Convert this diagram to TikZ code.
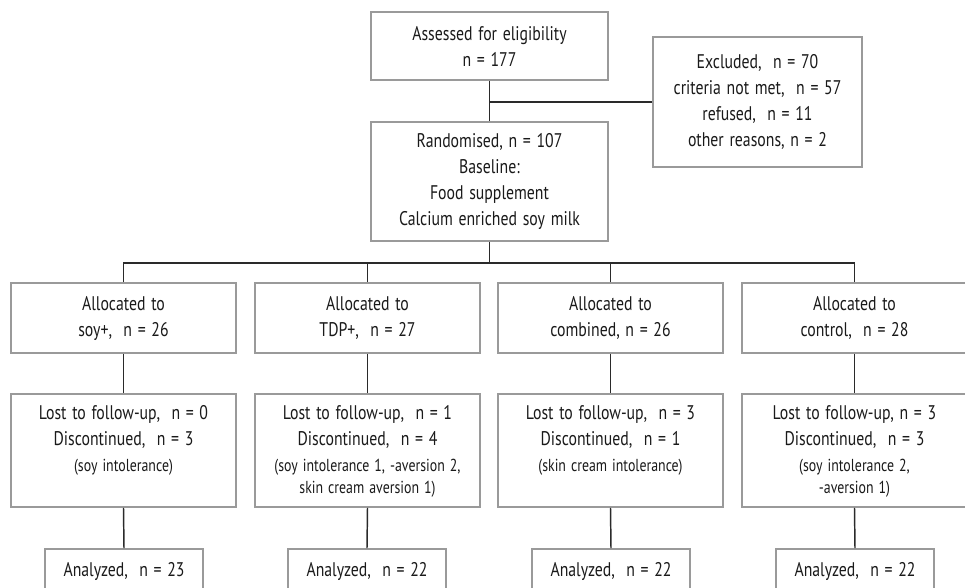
\documentclass[tikz,border=0pt]{standalone}
\usepackage{fontspec}
\setmainfont{PT Sans}[FakeStretch=0.8,WordSpace=1.35]
\definecolor{boxgray}{HTML}{9A9A9A}
\definecolor{linedark}{HTML}{2A2A2A}
\definecolor{txt}{HTML}{1A1A1A}
\newcommand\mainsz{\fontsize{14.8}{19.5}\selectfont}
\newcommand\smallsz{\fontsize{13}{16.5}\selectfont}
\begin{document}
\begin{tikzpicture}[x=0.75pt,y=-0.75pt,
  bx/.style 2 args={draw=boxgray,line width=1.4pt,inner sep=0pt,
    minimum width=#1*0.75pt,minimum height=#2*0.75pt,
    align=center,font=\mainsz,text=txt},
  tx/.style={inner sep=0pt,align=center,font=\mainsz,text=txt},
  conn/.style={draw=linedark,line width=1.1pt}]
\useasboundingbox (0,0) rectangle (965,587);
\clip (0,0) rectangle (965,587);
\fill[white] (0,0) rectangle (965,587);

% top part
\node[bx={237}{68}] (top) at (489.5,46) {Assessed for eligibility\\n = 177};
\node[bx={209}{130}] (excl) at (757.5,102) {Excluded,\ \ n = 70\\criteria not met,\ \ n = 57\\refused,\ \ n = 11\\other reasons, n = 2};
\node[bx={237}{119}] (rand) at (489.5,181.5) {Randomised, n = 107\\Baseline:\\Food supplement\\Calcium enriched soy milk};

% allocated
\node[bx={225}{70}] (al1) at (123.5,318) {Allocated to\\soy+,\ \ n = 26};
\node[bx={225}{70}] (al2) at (367.5,318) {Allocated to\\TDP+,\ \ n = 27};
\node[bx={225}{70}] (al3) at (610.5,318) {Allocated to\\combined, n = 26};
\node[bx={225}{70}] (al4) at (854.5,318) {Allocated to\\control,\ \ n = 28};

% lost boxes
\node[bx={225}{113}] (lo1) at (123.5,450.5) {};
\node[bx={225}{113}] (lo2) at (367.5,450.5) {};
\node[bx={225}{113}] (lo3) at (610.5,450.5) {};
\node[bx={225}{113}] (lo4) at (854.5,450.5) {};
\node[tx,anchor=north] (lt1) at (123.5,405) {Lost to follow-up,\ \ n = 0\\Discontinued,\ \ n = 3\\{\smallsz (soy intolerance)}};
\node[tx,anchor=north] (lt2) at (367.5,405) {Lost to follow-up,\ \ n = 1\\Discontinued,\ \ n = 4\\{\smallsz (soy intolerance 1, -aversion 2,}\\[-3pt]{\smallsz skin cream aversion 1)}};
\node[tx,anchor=north] (lt3) at (610.5,405) {Lost to follow-up,\ \ n = 3\\Discontinued,\ \ n = 1\\{\smallsz (skin cream intolerance)}};
\node[tx,anchor=north] (lt4) at (854.5,405) {Lost to follow-up, n = 3\\Discontinued,\ \ n = 3\\{\smallsz (soy intolerance 2,}\\[-3pt]{\smallsz -aversion 1)}};

% analyzed boxes (cut at bottom)
\node[bx={158}{80}] (an1) at (124,589) {};
\node[bx={158}{80}] (an2) at (367,589) {};
\node[bx={158}{80}] (an3) at (611,589) {};
\node[bx={158}{80}] (an4) at (855,589) {};
\node[tx,anchor=base] (at1) at (124,576) {Analyzed,\ \ n = 23};
\node[tx,anchor=base] (at2) at (367,576) {Analyzed,\ \ n = 22};
\node[tx,anchor=base] (at3) at (611,576) {Analyzed,\ \ n = 22};
\node[tx,anchor=base] (at4) at (855,576) {Analyzed,\ \ n = 22};

% connectors
\coordinate (br) at (489.5,263);
\draw[conn] (top.south) -- (rand.north);
\draw[conn] (top.south |- excl.west) -- (excl.west);
\draw[conn] (rand.south) -- (br);
\draw[conn] (al1.north) -- (al1.north |- br) -- (al4.north |- br) -- (al4.north);
\draw[conn] (al2.north) -- (al2.north |- br);
\draw[conn] (al3.north) -- (al3.north |- br);
\foreach \i in {1,2,3,4}{
  \draw[conn] (al\i.south) -- (lo\i.north);
  \draw[conn] (lo\i.south) -- (an\i.north);
}
\end{tikzpicture}
\end{document}
